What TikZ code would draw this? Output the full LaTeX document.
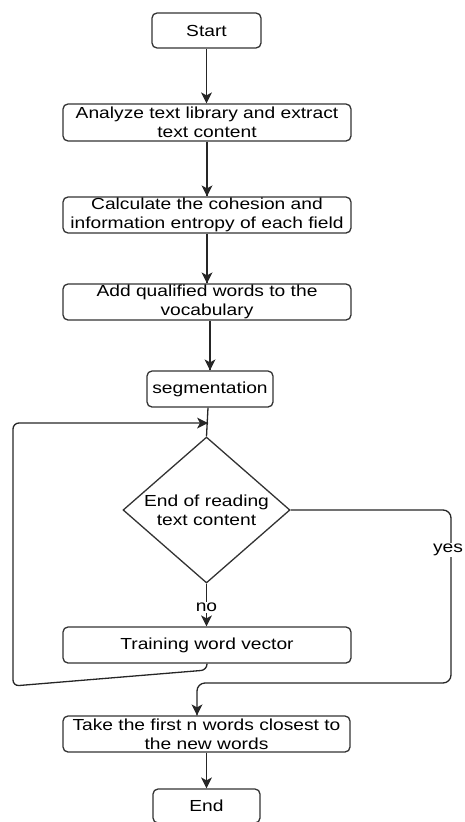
\documentclass[tikz,border=0pt]{standalone}
\usepackage{fontspec}
\setmainfont{Liberation Sans}[FakeStretch=1.2]
\usetikzlibrary{shapes.geometric}
\begin{document}
\begin{tikzpicture}[x=1pt,y=1pt,
  font=\fontsize{16}{19}\selectfont,
  box/.style={draw=black!80,line width=1.3pt,rounded corners=5pt,fill=white,
    align=center,inner sep=0pt},
  decision/.style={draw=black!80,line width=1.3pt,diamond,fill=white,inner sep=0pt,
    minimum width=167pt,minimum height=146pt},
  link/.style={draw=black!85,line width=1.3pt},
  headfill/.style={fill=black!85,draw=none},
  tag/.style={fill=white,inner sep=1pt}]
\useasboundingbox (0,0) rectangle (464,-822);

\node[box,minimum width=109pt,minimum height=35pt] (start) at (206.5,-30.5) {Start};
\node[box,minimum width=288pt,minimum height=37pt] (analyze) at (207,-122.5)
  {Analyze text library and extract\\text content};
\node[box,minimum width=288pt,minimum height=36pt] (calc) at (207,-215)
  {Calculate the cohesion and\\information entropy of each field};
\node[box,minimum width=288pt,minimum height=36pt] (add) at (207,-302)
  {Add qualified words to the\\vocabulary};
\node[box,minimum width=126pt,minimum height=36pt] (seg) at (210,-389) {segmentation};
\node[decision,label={[align=center]center:End of reading\\text content}] (dec) at (206.5,-510) {};
\node[box,minimum width=288pt,minimum height=36pt] (train) at (207,-645) {Training word vector};
\node[box,minimum width=287pt,minimum height=36pt] (take) at (206.5,-734)
  {Take the first n words closest to\\the new words};
\node[box,minimum width=107pt,minimum height=34pt] (end) at (206.5,-806) {End};

\coordinate (merge) at (208,-423);
\coordinate (loopR) at (207,-670);
\coordinate (loopBL) at (13,-686);
\coordinate (loopTL) at (13,-423);
\coordinate (yesTR) at (451,-510);
\coordinate (yesBR) at (451,-683);
\coordinate (yesBL) at (197,-683);

% downward head whose tip sits on the given point
\newcommand\headdown[1]{\fill[headfill] (#1) -- ++(-5.5,11) -- ++(5.5,-3) -- ++(5.5,3) -- cycle;}

% main column
\draw[link] (start.south) -- (analyze.north -| start.south);
\headdown{analyze.north -| start.south}
\draw[link] (analyze.south) -- (calc.north);
\headdown{calc.north}
\draw[link] (calc.south) -- (add.north);
\headdown{add.north}
\draw[link] (add.south -| seg) -- (seg.north);
\headdown{seg.north}
\draw[link] (seg.south -| merge) -- (dec.north);
\draw[link] (dec.south) -- node[tag,pos=0.55] {no} (train.north -| dec.south);
\headdown{train.north -| dec.south}
% loop back from training
\draw[link,rounded corners=6pt] (train.south) -- (loopR) -- (loopBL)
  -- (loopTL) -- (merge);
\fill[headfill] (merge) -- ++(-11,5.5) -- ++(3,-5.5) -- ++(-3,-5.5) -- cycle;
% exit branch
\draw[link,rounded corners=8pt] (dec.east) -- (yesTR) -- (yesBR) -- (yesBL)
  -- (take.north -| yesBL);
\headdown{take.north -| yesBL}
\node[tag] (yes) at (448,-550) {yes};
\draw[link] (take.south) -- (end.north);
\headdown{end.north}
\end{tikzpicture}
\end{document}
